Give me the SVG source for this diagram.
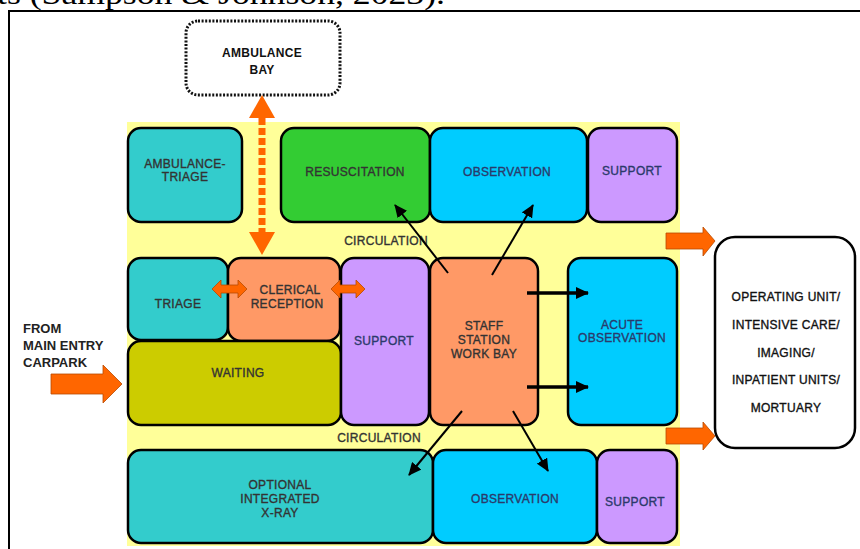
<svg xmlns="http://www.w3.org/2000/svg" width="860" height="549" viewBox="0 0 860 549">
  <style>
    .box { stroke: #000; stroke-width: 2.5; }
    .teal { fill: #33CCCC; }
    .green { fill: #33CC33; }
    .cyan { fill: #00CCFF; }
    .purple { fill: #CC99FF; }
    .orange { fill: #FF9966; }
    .olive { fill: #CCCC00; }
    .lbl { font-family: "Liberation Sans", Arial, sans-serif; font-size: 12px; text-anchor: middle; fill: #333333; stroke: #333333; stroke-width: 0.35; letter-spacing: 0.3px; }
    .navy { fill: #2B3A6B; stroke: #2B3A6B; }
    .blk { fill: #111111; stroke: #111111; }
    .bold { font-weight: bold; stroke-width: 0; }
    .oarrow { fill: #FF6600; stroke: #B84A00; stroke-width: 0.8; }
    .conn { stroke: #000; fill: none; }
  </style>
  <defs>
    <marker id="ah" markerUnits="userSpaceOnUse" markerWidth="14" markerHeight="12" refX="12" refY="6" orient="auto">
      <path d="M0,0 L13,6 L0,12 Z" fill="#000"/>
    </marker>
  </defs>

  <rect width="860" height="549" fill="#FFFFFF"/>
  <text x="-3" y="4" font-family="'Liberation Serif', 'DejaVu Serif', serif" font-size="30" textLength="448" lengthAdjust="spacingAndGlyphs" fill="#000">ts (Sampson &amp; Johnson, 2023).</text>
  <rect x="9" y="11" width="900" height="600" fill="none" stroke="#000" stroke-width="2"/>

  <rect id="circulation-area" x="127" y="122" width="553" height="424" fill="#FFFF99"/>

  <g id="ambulance-bay">
    <rect x="186" y="21" width="154" height="74" rx="12" fill="#FFFFFF" stroke="#111" stroke-width="3" stroke-dasharray="2 1.6"/>
    <text class="lbl blk bold" x="262" y="57">AMBULANCE</text>
    <text class="lbl blk bold" x="262" y="74">BAY</text>
  </g>

  <g id="ambulance-triage">
    <rect class="box teal" x="128" y="128" width="114" height="94" rx="13"/>
    <text class="lbl" x="185" y="168">AMBULANCE-</text>
    <text class="lbl" x="185" y="181">TRIAGE</text>
  </g>
  <g id="resuscitation">
    <rect class="box green" x="281" y="128" width="149" height="94" rx="13"/>
    <text class="lbl" x="355" y="176">RESUSCITATION</text>
  </g>
  <g id="observation-top">
    <rect class="box cyan" x="430" y="128" width="157" height="94" rx="13"/>
    <text class="lbl navy" x="507" y="176">OBSERVATION</text>
  </g>
  <g id="support-top">
    <rect class="box purple" x="588" y="128" width="89" height="94" rx="13"/>
    <text class="lbl navy" x="632" y="175">SUPPORT</text>
  </g>

  <text id="circulation-top" class="lbl" x="386" y="245">CIRCULATION</text>

  <g id="triage">
    <rect class="box teal" x="128" y="258" width="100" height="82" rx="13"/>
    <text class="lbl" x="178" y="308">TRIAGE</text>
  </g>
  <g id="clerical-reception">
    <rect class="box orange" x="228" y="258" width="112" height="83" rx="13"/>
    <text class="lbl" x="290" y="294">CLERICAL</text>
    <text class="lbl" x="287" y="308">RECEPTION</text>
  </g>
  <g id="waiting">
    <rect class="box olive" x="128" y="341" width="213" height="84" rx="13"/>
    <text class="lbl" x="238" y="377">WAITING</text>
  </g>
  <g id="support-mid">
    <rect class="box purple" x="341" y="258" width="88" height="167" rx="13"/>
    <text class="lbl navy" x="384" y="345">SUPPORT</text>
  </g>
  <g id="staff-station">
    <rect class="box orange" x="430" y="258" width="108" height="167" rx="13"/>
    <text class="lbl" x="484" y="330">STAFF</text>
    <text class="lbl" x="484" y="344">STATION</text>
    <text class="lbl" x="484" y="358">WORK BAY</text>
  </g>
  <g id="acute-observation">
    <rect class="box cyan" x="568" y="258" width="109" height="167" rx="13"/>
    <text class="lbl navy" x="622" y="329">ACUTE</text>
    <text class="lbl navy" x="622" y="342">OBSERVATION</text>
  </g>

  <text id="circulation-bottom" class="lbl" x="379" y="442">CIRCULATION</text>

  <g id="xray">
    <rect class="box teal" x="128" y="450" width="305" height="93" rx="13"/>
    <text class="lbl" x="280" y="489">OPTIONAL</text>
    <text class="lbl" x="280" y="503">INTEGRATED</text>
    <text class="lbl" x="280" y="517">X-RAY</text>
  </g>
  <g id="observation-bottom">
    <rect class="box cyan" x="433" y="450" width="164" height="93" rx="13"/>
    <text class="lbl navy" x="515" y="503">OBSERVATION</text>
  </g>
  <g id="support-bottom">
    <rect class="box purple" x="597" y="450" width="80" height="93" rx="13"/>
    <text class="lbl navy" x="635" y="506">SUPPORT</text>
  </g>

  <g id="other-units">
    <rect x="715" y="237" width="140" height="211" rx="20" fill="#FFFFFF" stroke="#000" stroke-width="2.5"/>
    <text class="lbl blk" x="786" y="301">OPERATING UNIT/</text>
    <text class="lbl blk" x="786" y="329">INTENSIVE CARE/</text>
    <text class="lbl blk" x="786" y="357">IMAGING/</text>
    <text class="lbl blk" x="786" y="384">INPATIENT UNITS/</text>
    <text class="lbl blk" x="786" y="412">MORTUARY</text>
  </g>

  <g id="main-entry">
    <text x="23" y="333" font-family="'Liberation Sans', Arial, sans-serif" font-size="13" font-weight="bold" fill="#222">FROM</text>
    <text x="23" y="350" font-family="'Liberation Sans', Arial, sans-serif" font-size="13" font-weight="bold" fill="#222">MAIN ENTRY</text>
    <text x="23" y="367" font-family="'Liberation Sans', Arial, sans-serif" font-size="13" font-weight="bold" fill="#222">CARPARK</text>
  </g>

  <g id="connectors">
    <line x1="262" y1="118" x2="262" y2="232" stroke="#FF6600" stroke-width="7" stroke-dasharray="7 3"/>
    <polygon points="262,95 275,118 249,118" fill="#FF6600"/>
    <polygon points="262,255 275,232 249,232" fill="#FF6600"/>

    <polygon class="oarrow" points="51,374 103,374 103,365 122,384 103,403 103,394 51,394"/>
    <polygon class="oarrow" points="666,233 703,233 703,227 715,241 703,256 703,249 666,249"/>
    <polygon class="oarrow" points="666,428 703,428 703,422 715,436 703,450 703,444 666,444"/>
    <polygon class="oarrow" points="212,289 221,280 221,285 238,285 238,280 247,289 238,298 238,293 221,293 221,298"/>
    <polygon class="oarrow" points="331,289 340,280 340,285 356,285 356,280 365,289 356,298 356,293 340,293 340,298"/>

    <line class="conn" x1="448" y1="273" x2="395" y2="205" stroke-width="2" marker-end="url(#ah)"/>
    <line class="conn" x1="492" y1="275" x2="533" y2="205" stroke-width="2" marker-end="url(#ah)"/>
    <line class="conn" x1="527" y1="293" x2="588" y2="293" stroke-width="3.5" marker-end="url(#ah)"/>
    <line class="conn" x1="527" y1="387" x2="588" y2="387" stroke-width="3.5" marker-end="url(#ah)"/>
    <line class="conn" x1="462" y1="411" x2="409" y2="475" stroke-width="2" marker-end="url(#ah)"/>
    <line class="conn" x1="513" y1="411" x2="548" y2="471" stroke-width="2" marker-end="url(#ah)"/>
  </g>
</svg>
